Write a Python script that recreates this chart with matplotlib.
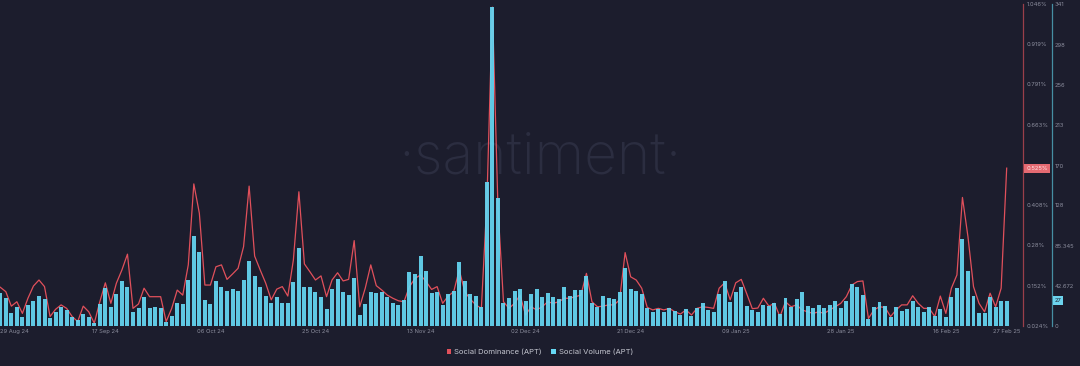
import matplotlib
matplotlib.use("Agg")
import matplotlib.pyplot as plt
from matplotlib.patches import Patch
import numpy as np
import pandas as pd

# ---------------- data ----------------
start_date = "2024-08-29"
n_days = 183

social_volume = [
    34.6, 30, 13.5, 20, 10, 22, 26.5, 32, 28.6, 8, 14.5, 20.5, 17, 10, 6.4, 12.7,
    10, 3.5, 23, 40, 19.8, 33.6, 47.7, 41.7, 15, 18.7, 30.4, 18.7, 20.5, 18.7, 4.6, 11,
    24.7, 23, 48.7, 95.7, 78, 27.5, 23, 47.7, 41.7, 37.4, 38.9, 37.4, 48.7, 69, 53, 41.7,
    31.8, 24, 30.7, 24, 24, 46.6, 83, 41.7, 41.7, 35.7, 31, 17.7, 38.8, 49.8, 35.7, 32.8,
    51, 11.7, 23, 35.7, 34.6, 36.4, 30.4, 24.7, 22.2, 27.5, 56.9, 55.4, 73.8, 58.6, 34.6, 35.7,
    22.2, 33.6, 37.4, 67.5, 47.7, 33.6, 31.8, 19.8, 152.9, 338, 136, 24.7, 29.3,
    37, 39.5, 26.5, 33.6, 39.5, 30.4, 35.3, 30.4, 28.2, 41.3, 32.1, 38.5, 38.1, 53, 24, 20.5,
    31.4, 29.3, 28.2, 36.4, 61.8, 39.5, 37.4, 33.6, 19.4, 15.2, 17.7, 15.2, 19.4, 15.9, 12, 17.7,
    10.6, 19.4, 24, 16.9, 14.5, 33.9, 47.7, 25.8, 36.4, 41.7,
    21.5, 16.9, 15.2, 22.2, 21.5, 24.7, 12.4, 30, 20.5, 29, 35.7, 21.5, 18.7, 21.9, 19.4, 22.2,
    26.8, 18.7, 26.8, 44.5, 41.7, 32.8, 7.4, 20.5, 25.4, 21.5, 9.9, 19.8, 15.9, 17.7, 26.5, 19.8,
    14.8, 19.8, 10.6, 17.7, 9.9, 30.4, 40.6, 91.8, 58.6, 31.8, 13.4, 13.4, 31, 20.5, 26.8, 27,
]

social_dominance = [
    0.147, 0.133, 0.087, 0.101, 0.064, 0.112, 0.151, 0.170, 0.149, 0.054, 0.077, 0.091, 0.080, 0.054, 0.038, 0.087,
    0.069, 0.033, 0.101, 0.161, 0.096, 0.160, 0.202, 0.252, 0.080, 0.094, 0.144, 0.117, 0.117, 0.117, 0.038, 0.080,
    0.138, 0.122, 0.218, 0.475, 0.382, 0.154, 0.154, 0.212, 0.218, 0.172, 0.189, 0.207, 0.276, 0.468, 0.246, 0.202,
    0.160, 0.107, 0.141, 0.149, 0.119, 0.233, 0.450, 0.221, 0.196, 0.170, 0.183, 0.117, 0.170, 0.193, 0.167, 0.172,
    0.295, 0.085, 0.144, 0.218, 0.152, 0.138, 0.122, 0.112, 0.104, 0.101, 0.149, 0.175, 0.186, 0.165, 0.140, 0.149,
    0.096, 0.119, 0.133, 0.202, 0.133, 0.109, 0.091, 0.080, 0.420, 1.036, 0.400, 0.101, 0.080,
    0.096, 0.122, 0.059, 0.085, 0.075, 0.085, 0.101, 0.096, 0.101, 0.112, 0.112, 0.117, 0.122, 0.191, 0.101, 0.085,
    0.087, 0.091, 0.091, 0.107, 0.257, 0.180, 0.170, 0.144, 0.083, 0.075, 0.080, 0.075, 0.080, 0.069, 0.062, 0.075,
    0.059, 0.080, 0.085, 0.083, 0.080, 0.144, 0.161, 0.107, 0.161, 0.172,
    0.126, 0.079, 0.081, 0.112, 0.087, 0.096, 0.054, 0.101, 0.085, 0.091, 0.075, 0.069, 0.064, 0.069, 0.064, 0.075,
    0.085, 0.096, 0.117, 0.154, 0.165, 0.167, 0.048, 0.075, 0.085, 0.083, 0.054, 0.075, 0.091, 0.091, 0.120, 0.096,
    0.080, 0.080, 0.054, 0.119, 0.064, 0.144, 0.186, 0.432, 0.307, 0.149, 0.096, 0.069, 0.128, 0.085, 0.144, 0.525,
]

dominance_ticks = [0.024, 0.152, 0.28, 0.408, 0.663, 0.791, 0.919, 1.046]
dominance_tick_labels = ["0.024%", "0.152%", "0.28%", "0.408%", "0.663%", "0.791%", "0.919%", "1.046%"]
volume_ticks = [0, 42.672, 85.345, 128, 170, 213, 256, 298, 341]
volume_tick_labels = ["0", "42.672", "85.345", "128", "170", "213", "256", "298", "341"]
date_tick_idx = [0, 19, 38, 57, 76, 95, 114, 133, 152, 171, 182]

series_names = ["Social Dominance (APT)", "Social Volume (APT)"]

# ---------------- style ----------------
BG = "#1c1d2d"
BAR = "#66d8f4"
LINE = "#e0505b"
TICK = "#8c8e9e"
plt.rcParams["font.family"] = ["Inter", "DejaVu Sans"]

dates = pd.date_range(start_date, periods=n_days, freq="D")
x = np.arange(n_days)

fig = plt.figure(figsize=(10.8, 3.66), dpi=100, facecolor=BG)
rect = [0.0, 40 / 366, 1010 / 1080, 322 / 366]
ax_d = fig.add_axes(rect)
ax_v = ax_d.twinx()
ax_d.set_zorder(1)
ax_v.set_zorder(2)
for a in (ax_d, ax_v):
    a.patch.set_visible(False)
    for s in ("top", "left", "bottom"):
        a.spines[s].set_visible(False)

# watermark
ax_d.text(0.535, 0.52, "·santiment·", transform=ax_d.transAxes, ha="center", va="center",
          fontsize=41, color="#2b2d40", fontweight="light", zorder=0)

# dominance line (below bars)
ax_d.plot(x, social_dominance, color=LINE, lw=0.9, solid_joinstyle="round", zorder=2)
ax_d.set_ylim(0.024, 1.046)
ax_d.set_xlim(-0.05, 182.6)
ax_d.yaxis.tick_right()
ax_d.spines["right"].set_position(("outward", 13 * 0.72))
ax_d.spines["right"].set_color("#9a3f4a")
ax_d.spines["right"].set_linewidth(0.9)
ax_d.set_yticks(dominance_ticks)
ax_d.set_yticklabels(dominance_tick_labels)
ax_d.tick_params(axis="y", length=0, pad=2.8, labelsize=4.2, labelcolor=TICK)

# volume bars
ax_v.bar(x, social_volume, width=0.72, color=BAR, alpha=0.92, linewidth=0)
ax_v.set_ylim(0, 341.38)
ax_v.set_xlim(-0.05, 182.6)
ax_v.spines["right"].set_position(("outward", 42 * 0.72))
ax_v.spines["right"].set_color("#468fa3")
ax_v.spines["right"].set_linewidth(0.9)
ax_v.set_yticks(volume_ticks)
ax_v.set_yticklabels(volume_tick_labels)
ax_v.tick_params(axis="y", length=0, pad=2.2, labelsize=4.2, labelcolor=TICK)

# date ticks
ax_d.set_xticks(date_tick_idx)
ax_d.set_xticklabels([dates[i].strftime("%d %b %y") for i in date_tick_idx])
ax_d.tick_params(axis="x", length=0, pad=2.5, labelsize=4.2, labelcolor=TICK)
ax_d.get_xticklabels()[0].set_ha("left")
ax_v.tick_params(axis="x", length=0, labelbottom=False)

# current value labels
last_dom = social_dominance[-1]
ax_d.annotate(f"{last_dom:.3f}%", xy=(1, last_dom), xycoords=("axes fraction", "data"),
              xytext=(13 * 0.72 + 2.5, 0), textcoords="offset points", ha="left", va="center",
              fontsize=4.2, color="#ffe3e3", annotation_clip=False,
              bbox=dict(boxstyle="square,pad=0.35", fc="#e46a72", ec="none"))
last_vol = social_volume[-1]
ax_v.annotate(f"{last_vol:g}", xy=(1, last_vol), xycoords=("axes fraction", "data"),
              xytext=(42 * 0.72 + 1.8, 0), textcoords="offset points", ha="left", va="center",
              fontsize=4.2, color="#1c1d2d", annotation_clip=False,
              bbox=dict(boxstyle="square,pad=0.3", fc="#6dd4ee", ec="none"))

# legend
handles = [Patch(facecolor=LINE, edgecolor="none"), Patch(facecolor=BAR, edgecolor="none")]
leg = fig.legend(handles, series_names, loc="center", bbox_to_anchor=(0.5, 1 - 352 / 366),
                 ncol=2, frameon=False, fontsize=5.5, handlelength=0.6, handleheight=0.6,
                 handletextpad=0.4, columnspacing=1.2)
for t in leg.get_texts():
    t.set_color("#c4c6d0")

fig.savefig("out.png", dpi=100, facecolor=BG)
